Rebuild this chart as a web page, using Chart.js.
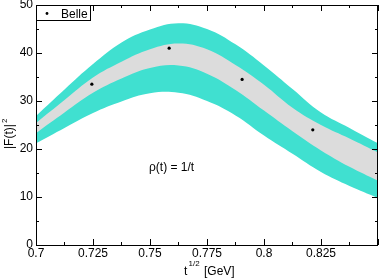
<!DOCTYPE html>
<html>
<head>
<meta charset="utf-8">
<script src="https://cdn.jsdelivr.net/npm/chart.js@4"></script>
<style>
  body { margin: 0; background: #fff; }
  #wrap { width: 382px; height: 278px; }
</style>
</head>
<body>
<div id="wrap"><canvas id="formFactorChart" width="382" height="278"></canvas></div>
<script>
// sqrt(t) grid in GeV
const tGrid = [0.7, 0.7125, 0.725, 0.7375, 0.75, 0.7625, 0.775, 0.7875, 0.8, 0.8125, 0.825, 0.8375, 0.85];
// outer (turquoise) band
const outerUpper = [26.9, 32.4, 37.7, 42.2, 44.9, 46.2, 45.0, 41.8, 37.4, 32.5, 27.6, 24.4, 21.2];
const outerLower = [21.2, 24.4, 27.5, 29.9, 31.6, 31.7, 30.0, 27.0, 22.8, 19.0, 15.2, 12.3, 9.8];
// inner (grey) band
const innerUpper = [25.4, 30.2, 34.9, 38.2, 40.8, 42.0, 40.8, 37.5, 33.4, 28.6, 25.0, 22.2, 19.3];
const innerLower = [23.3, 27.6, 31.7, 34.7, 36.9, 37.4, 35.7, 32.3, 28.0, 23.7, 19.7, 16.3, 13.4];
// Belle data
const belleX = [0.7245, 0.7584, 0.7904, 0.8214];
const belleY = [33.5, 41.0, 34.5, 24.0];

const xTickValues = [0.7, 0.725, 0.75, 0.775, 0.8, 0.825];
const yTickValues = [0, 10, 20, 30, 40, 50];

const FONT = "'Liberation Sans', Arial, Helvetica, sans-serif";
const CYAN = '#40e0d0';
const GREY = '#dcdcdc';

function toPoints(xs, ys) {
    return xs.map((x, i) => ({ x: x, y: ys[i] }));
}

function bandLine(values, order, fillTarget, color) {
    return {
        data: toPoints(tGrid, values),
        order: order,
        fill: fillTarget === null ? false : { target: fillTarget },
        backgroundColor: color,
        borderWidth: 0,
        pointRadius: 0,
        tension: 0.4,
    };
}

// frame, inward ticks, legend box and the texts
const decorations = {
    id: 'decorations',
    afterDraw(chart) {
        const ctx = chart.ctx;
        const area = chart.chartArea;
        const xs = chart.scales.x;
        const ys = chart.scales.y;
        ctx.save();
        ctx.strokeStyle = '#000';
        ctx.lineWidth = 1;

        //ticks
        ctx.beginPath();
        for (let v = 0.7; v < 0.8501; v += 0.0125) {
            const major = Math.abs(Math.round(v / 0.025) * 0.025 - v) < 1e-6;
            const len = major ? 6 : 3;
            const px = Math.round(xs.getPixelForValue(v)) + 0.5;
            ctx.moveTo(px, area.bottom); ctx.lineTo(px, area.bottom - len);
            ctx.moveTo(px, area.top); ctx.lineTo(px, area.top + len);
        }
        for (let v = 0; v <= 50; v += 5) {
            const len = v % 10 === 0 ? 6 : 3;
            const py = Math.round(ys.getPixelForValue(v)) + 0.5;
            ctx.moveTo(area.left, py); ctx.lineTo(area.left + len, py);
            ctx.moveTo(area.right, py); ctx.lineTo(area.right - len, py);
        }
        ctx.stroke();

        //frame
        ctx.strokeRect(Math.round(area.left) + 0.5, Math.round(area.top) + 0.5,
            Math.round(area.right - area.left) - 1, Math.round(area.bottom - area.top));

        //legend
        ctx.fillStyle = '#fff';
        ctx.fillRect(area.left + 0.5, area.top + 0.5, 54, 15);
        ctx.strokeRect(area.left + 0.5, area.top + 0.5, 54, 15);
        ctx.fillStyle = '#000';
        ctx.beginPath();
        ctx.arc(area.left + 11, area.top + 8.5, 1.4, 0, Math.PI * 2);
        ctx.fill();
        ctx.font = '12px ' + FONT;
        ctx.textBaseline = 'alphabetic';
        ctx.textAlign = 'left';
        ctx.fillText('Belle', area.left + 25, area.top + 12.5);

        //annotation
        ctx.fillText('\u03c1(t) = 1/t', 149, 171);

        //x title
        ctx.fillText('t', 184, 275);
        ctx.font = '8px ' + FONT;
        ctx.fillText('1/2', 188.5, 266);
        ctx.font = '12px ' + FONT;
        ctx.fillText('[GeV]', 204, 275);

        //y title
        ctx.translate(13, 149);
        ctx.rotate(-Math.PI / 2);
        ctx.fillText('|F(t)|', 0, 0);
        const w = ctx.measureText('|F(t)|').width;
        ctx.font = '8px ' + FONT;
        ctx.fillText('2', w + 1, -6);
        ctx.restore();
    }
};

const config = {
    type: 'line',
    data: {
        datasets: [
            {
                label: 'Belle',
                type: 'scatter',
                data: toPoints(belleX, belleY),
                order: 0,
                pointRadius: 1.6,
                pointBackgroundColor: '#000',
                pointBorderWidth: 0,
                showLine: false,
            },
            bandLine(innerUpper, 1, 2, GREY),
            bandLine(innerLower, 2, null, GREY),
            bandLine(outerUpper, 3, 4, CYAN),
            bandLine(outerLower, 4, null, CYAN),
        ],
    },
    options: {
        responsive: false,
        animation: false,
        events: [],
        layout: { padding: { top: 5, right: 2, left: 0, bottom: 0 } },
        plugins: {
            legend: { display: false },
            tooltip: { enabled: false },
        },
        scales: {
            x: {
                type: 'linear',
                min: 0.7,
                max: 0.85,
                grid: { display: false, drawTicks: false },
                border: { display: false },
                afterBuildTicks: (scale) => {
                    scale.ticks = xTickValues.map(v => ({ value: v }));
                },
                ticks: {
                    autoSkip: false,
                    maxRotation: 0,
                    padding: 1,
                    color: '#000',
                    font: { family: FONT, size: 12 },
                    callback: (v) => String(Number(v.toFixed(3))),
                },
                afterFit: (scale) => {
                    scale.height = 33;
                    scale.paddingLeft = 0;
                    scale.paddingRight = 0;
                },
            },
            y: {
                min: 0,
                max: 50,
                grid: { display: false, drawTicks: false },
                border: { display: false },
                afterBuildTicks: (scale) => {
                    scale.ticks = yTickValues.map(v => ({ value: v }));
                },
                ticks: {
                    padding: 3,
                    color: '#000',
                    font: { family: FONT, size: 12 },
                },
                afterFit: (scale) => {
                    scale.width = 36;
                    scale.paddingTop = 0;
                    scale.paddingBottom = 0;
                },
            },
        },
    },
    plugins: [decorations],
};

const formFactorChart = new Chart(document.getElementById('formFactorChart'), config);
</script>
</body>
</html>
